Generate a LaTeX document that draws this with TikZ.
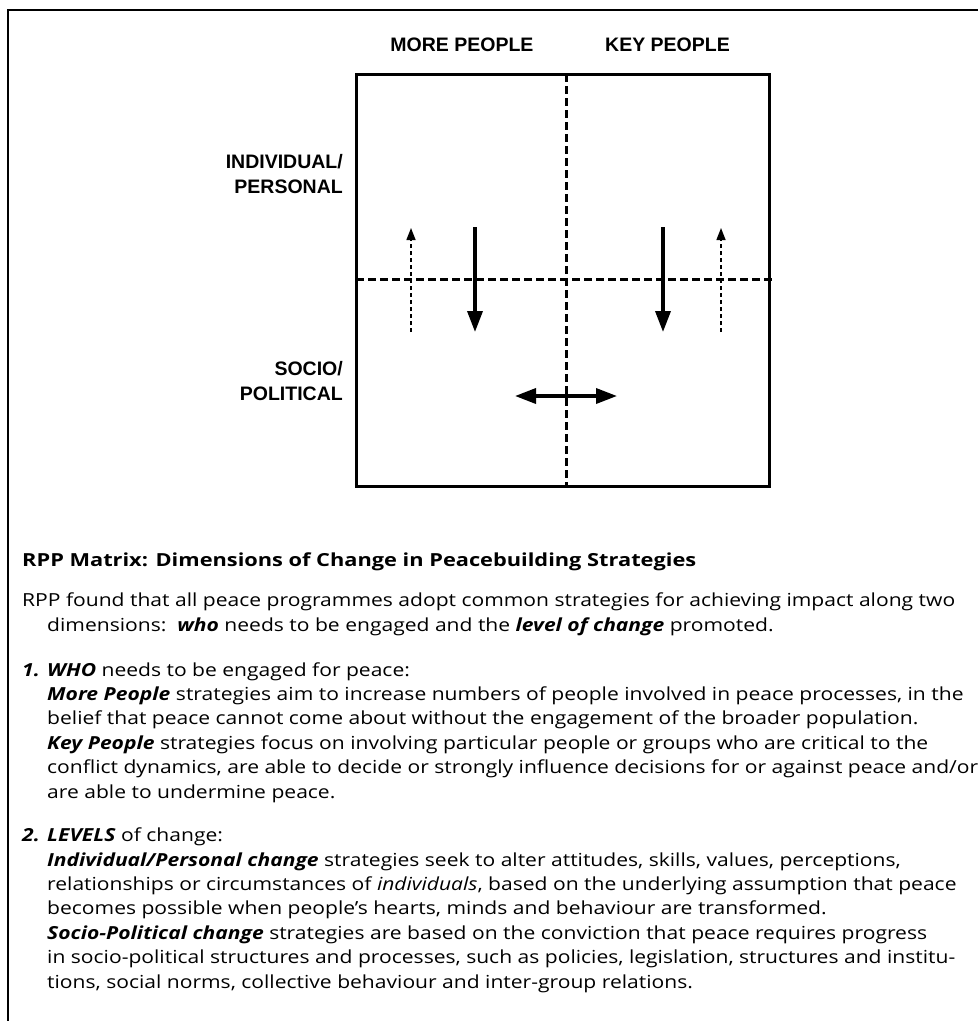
\documentclass[tikz,border=0pt]{standalone}
\usepackage{fontspec}
\setmainfont[FakeStretch=1.17]{Open Sans}
\newfontfamily\titlefont[FakeStretch=1.21]{Open Sans}
\newfontfamily\headfont{Liberation Sans}
\usetikzlibrary{arrows.meta}

\newcommand{\bi}[1]{\textbf{\textit{#1}}}
\newcommand{\ind}{\hspace*{25pt}}

\begin{document}
\begin{tikzpicture}[x=1pt,y=-1pt,
    head/.style={font=\headfont\bfseries\fontsize{19.5}{25}\selectfont,inner sep=0pt},
    side/.style={head,align=right,anchor=base east},
    para/.style={font=\fontsize{18}{24.4}\selectfont,align=left,anchor=base west,inner sep=0pt},
    divider/.style={line width=3pt,dash pattern=on 8pt off 4pt},
    downarrow/.style={line width=3.5pt,-{Triangle[length=21pt,width=15pt]}},
    weakarrow/.style={line width=1.4pt,dash pattern=on 4pt off 3pt,-{Triangle[length=12pt,width=9pt]}}]
  \useasboundingbox (0,0) rectangle (978,1021);

  % frame
  \draw[line width=2pt] (7.5,1021) -- (7.5,9.5) -- (978,9.5);

  % matrix
  \node[head,anchor=base] (more) at (462,51) {MORE PEOPLE};
  \node[head,anchor=base] (key) at (667.5,51) {KEY PEOPLE};
  % base of a two-line node = its last line
  \node[side] (indiv) at (343,193) {INDIVIDUAL/\\PERSONAL};
  \node[side] (socio) at (343,400) {SOCIO/\\POLITICAL};

  \draw[line width=3pt] (356,74) rectangle (769,486);
  \coordinate (vtop) at (566,74);
  \coordinate (vbot) at (566,486);
  \coordinate (hleft) at (356,279);
  \coordinate (hright) at (775,279);
  \draw[divider] (vtop) -- (vbot);
  \draw[divider] (hleft) -- (hright);

  \coordinate (upA0) at (411,332);  \coordinate (upA1) at (411,228);
  \coordinate (upB0) at (721,332);  \coordinate (upB1) at (721,228);
  \coordinate (dnA0) at (475,227);  \coordinate (dnA1) at (475,332);
  \coordinate (dnB0) at (663,227);  \coordinate (dnB1) at (663,332);
  \coordinate (swL) at (515,396);   \coordinate (swR) at (617,396);
  \draw[weakarrow] (upA0) -- (upA1);
  \draw[weakarrow] (upB0) -- (upB1);
  \draw[downarrow] (dnA0) -- (dnA1);
  \draw[downarrow] (dnB0) -- (dnB1);
  \draw[line width=3.5pt,{Triangle[length=21pt,width=15pt]}-{Triangle[length=21pt,width=15pt]}] (swL) -- (swR);

  % text
  \node[para,font=\titlefont\bfseries\fontsize{18}{24.4}\selectfont] (title) at (22,566)
    {RPP Matrix: Dimensions of Change in Peacebuilding Strategies};
  \node[para] (intro) at (22,631)
    {RPP found that all peace programmes adopt common strategies for achieving impact along two\\
     \ind dimensions:\ \ \bi{who} needs to be engaged and the \bi{level of change} promoted.};
  \node[para] (who) at (22,798)
    {\makebox[25pt][l]{\bi{1.}}\bi{WHO} needs to be engaged for peace:\\
     \ind\bi{More People} strategies aim to increase numbers of people involved in peace processes, in the\\
     \ind belief that peace cannot come about without the engagement of the broader population.\\
     \ind\bi{Key People} strategies focus on involving particular people or groups who are critical to the\\
     \ind conflict dynamics, are able to decide or strongly influence decisions for or against peace and/or\\
     \ind are able to undermine peace.};
  \node[para] (levels) at (22,988)
    {\makebox[25pt][l]{\bi{2.}}\bi{LEVELS} of change:\\
     \ind\bi{Individual/Personal change} strategies seek to alter attitudes, skills, values, perceptions,\\
     \ind relationships or circumstances of \textit{individuals}, based on the underlying assumption that peace\\
     \ind becomes possible when people’s hearts, minds and behaviour are transformed.\\
     \ind\bi{Socio-Political change} strategies are based on the conviction that peace requires progress\\
     \ind in socio-political structures and processes, such as policies, legislation, structures and institu-\\
     \ind tions, social norms, collective behaviour and inter-group relations.};
\end{tikzpicture}
\end{document}
